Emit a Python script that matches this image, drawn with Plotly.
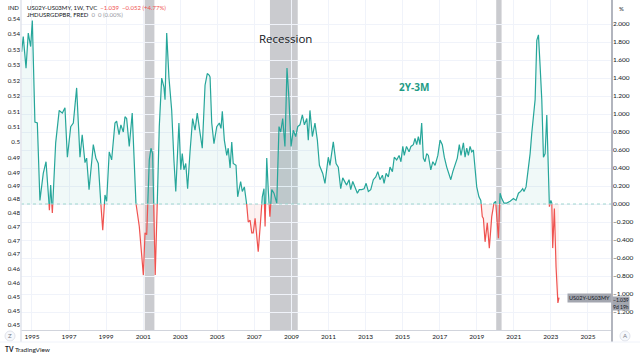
import numpy as np
import pandas as pd
import plotly.graph_objects as go

# ---------------- data ----------------
# weekly US02Y-US03MY spread, dates as decimal years
dates_dec = [
    1994.44, 1994.53, 1994.68, 1994.80, 1994.93, 1995.02, 1995.16, 1995.29, 1995.43, 1995.61,
    1995.76, 1995.92, 1995.94, 1996.01, 1996.10, 1996.28, 1996.47, 1996.64, 1996.78, 1996.91,
    1997.09, 1997.23, 1997.41, 1997.59, 1997.71, 1997.86, 1997.95, 1998.08, 1998.31, 1998.45,
    1998.58, 1998.71, 1998.82, 1998.94, 1999.03, 1999.17, 1999.30, 1999.48, 1999.57, 1999.70,
    1999.80, 1999.93, 2000.02, 2000.11, 2000.25, 2000.41, 2000.61, 2000.79, 2001.01, 2001.10,
    2001.19, 2001.33, 2001.42, 2001.51, 2001.65, 2001.76, 2001.87, 2002.00, 2002.12, 2002.18,
    2002.27, 2002.39, 2002.54, 2002.66, 2002.76, 2002.93, 2003.03, 2003.11, 2003.20, 2003.30,
    2003.40, 2003.53, 2003.67, 2003.80, 2003.92, 2004.07, 2004.19, 2004.34, 2004.46, 2004.57,
    2004.61, 2004.70, 2004.82, 2004.97, 2005.11, 2005.20, 2005.27, 2005.38, 2005.51, 2005.59,
    2005.69, 2005.78, 2005.86, 2006.01, 2006.10, 2006.26, 2006.35, 2006.46, 2006.59, 2006.67,
    2006.77, 2006.86, 2006.94, 2007.04, 2007.13, 2007.21, 2007.34, 2007.43, 2007.52, 2007.58,
    2007.67, 2007.75, 2007.84, 2007.94, 2008.06, 2008.21, 2008.33, 2008.42, 2008.53, 2008.65,
    2008.76, 2008.87, 2008.98, 2009.10, 2009.23, 2009.34, 2009.46, 2009.59, 2009.70, 2009.83,
    2009.91, 2010.00, 2010.13, 2010.27, 2010.40, 2010.51, 2010.69, 2010.81, 2010.99, 2011.08,
    2011.26, 2011.41, 2011.53, 2011.66, 2011.77, 2011.89, 2011.98, 2012.11, 2012.20, 2012.31,
    2012.43, 2012.56, 2012.66, 2012.79, 2012.92, 2013.03, 2013.15, 2013.28, 2013.42, 2013.55,
    2013.66, 2013.78, 2013.91, 2014.00, 2014.11, 2014.23, 2014.32, 2014.45, 2014.55, 2014.68,
    2014.81, 2014.91, 2015.01, 2015.09, 2015.21, 2015.35, 2015.45, 2015.58, 2015.67, 2015.76,
    2015.85, 2015.94, 2016.03, 2016.12, 2016.21, 2016.30, 2016.39, 2016.52, 2016.63, 2016.75,
    2016.90, 2017.02, 2017.14, 2017.25, 2017.38, 2017.51, 2017.60, 2017.71, 2017.83, 2017.95,
    2018.06, 2018.15, 2018.28, 2018.37, 2018.46, 2018.55, 2018.64, 2018.73, 2018.82, 2019.00,
    2019.12, 2019.22, 2019.30, 2019.36, 2019.45, 2019.57, 2019.68, 2019.81, 2019.93, 2020.02,
    2020.17, 2020.26, 2020.35, 2020.47, 2020.62, 2020.80, 2020.98, 2021.12, 2021.25, 2021.37,
    2021.48, 2021.55, 2021.66, 2021.79, 2021.88, 2021.97, 2022.06, 2022.15, 2022.24, 2022.33,
    2022.42, 2022.51, 2022.60, 2022.69, 2022.78, 2022.87, 2022.92, 2023.00, 2023.05, 2023.10,
    2023.19, 2023.28, 2023.38, 2023.44,
]
spread = [
    1.69, 1.86, 1.51, 1.90, 1.75, 2.04, 0.91, 0.90, 0.04, 0.34,
    0.47, 0.01, -0.07, 0.21, -0.10, 0.68, 1.04, 1.01, 1.07, 0.52,
    0.86, 0.90, 1.29, 0.52, 0.77, 0.46, 0.51, 0.16, 0.66, 0.51,
    0.45, 0.02, -0.29, 0.10, 0.03, 0.58, 0.49, 0.90, 0.92, 0.77,
    0.88, 0.80, 0.97, 0.95, 0.64, 1.01, 0.01, -0.25, -0.79, -0.32,
    -0.34, 0.49, 0.62, 0.56, -0.79, 0.01, 0.86, 1.40, 1.30, 1.16,
    1.90, 1.41, 1.04, 0.49, 0.14, 0.90, 0.38, 0.56, 0.38, 0.45,
    0.17, 0.58, 0.95, 0.82, 1.01, 0.79, 0.62, 1.32, 1.45, 1.43,
    1.41, 0.90, 0.67, 0.86, 0.90, 0.84, 1.03, 0.71, 0.54, 0.62,
    0.40, 0.69, 0.45, 0.43, 0.08, 0.25, 0.14, 0.19, -0.01, -0.20,
    -0.18, -0.32, -0.32, -0.16, -0.32, -0.53, -0.18, 0.08, 0.17, -0.25,
    0.51, 0.16, -0.14, 0.16, 0.12, 0.01, 0.86, 0.80, 0.95, 0.64,
    1.51, 1.16, 0.64, 0.82, 0.75, 0.86, 0.88, 0.99, 0.88, 0.95,
    0.71, 1.04, 0.75, 0.90, 0.71, 0.43, 0.34, 0.23, 0.52, 0.43,
    0.69, 0.45, 0.41, 0.17, 0.29, 0.25, 0.21, 0.27, 0.16, 0.25,
    0.19, 0.12, 0.16, 0.16, 0.17, 0.23, 0.14, 0.16, 0.27, 0.30,
    0.36, 0.27, 0.32, 0.23, 0.34, 0.30, 0.41, 0.36, 0.52, 0.49,
    0.54, 0.47, 0.64, 0.54, 0.64, 0.58, 0.64, 0.66, 0.73, 0.66,
    0.75, 0.66, 0.90, 0.51, 0.47, 0.56, 0.54, 0.38, 0.47, 0.43,
    0.54, 0.71, 0.66, 0.52, 0.41, 0.32, 0.27, 0.36, 0.43, 0.51,
    0.66, 0.54, 0.68, 0.52, 0.62, 0.54, 0.64, 0.58, 0.60, 0.19,
    0.08, 0.04, -0.14, -0.16, -0.42, -0.21, -0.49, -0.14, 0.01, 0.03,
    -0.38, 0.12, 0.06, 0.01, 0.01, 0.03, 0.06, 0.04, 0.12, 0.14,
    0.17, 0.14, 0.19, 0.41, 0.56, 0.79, 1.01, 1.16, 1.82, 1.88,
    1.53, 1.16, 0.52, 0.56, 0.99, 0.41, -0.03, 0.04, 0.01, -0.49,
    -0.05, -0.70, -1.10, -1.04,
]
last_value = -1.039

# recession periods (JHDUSRGDPBR = 1)
rec_start = ["2001-02-01", "2007-11-05", "2020-01-20"]
rec_end = ["2001-08-10", "2009-05-05", "2020-05-05"]

x_tick_years = list(range(1995, 2027, 2))
right_ticks = [round(-1.2 + 0.2 * i, 1) for i in range(17)]
left_tick_text = ["0.54", "0.54", "0.53", "0.53", "0.52", "0.52", "0.51", "0.51", "0.5",
                  "0.49", "0.49", "0.49", "0.48", "0.48", "0.47", "0.47", "0.47",
                  "0.46", "0.46", "0.45", "0.45", "0.45"]

# ---------------- helpers ----------------
def dec_to_ts(d):
    y = int(np.floor(d))
    start = pd.Timestamp(year=y, month=1, day=1)
    end = pd.Timestamp(year=y + 1, month=1, day=1)
    return start + (end - start) * (d - y)

t = np.array([dec_to_ts(d).value for d in dates_dec], dtype=float)
v = np.array(spread, dtype=float)

# split into above / below zero with crossing points (for baseline colouring)
xs, ys = [t[0]], [v[0]]
for i in range(1, len(v)):
    a, b = v[i - 1], v[i]
    if (a > 0 and b < 0) or (a < 0 and b > 0):
        tc = t[i - 1] + (t[i] - t[i - 1]) * (a / (a - b))
        xs.append(tc)
        ys.append(0.0)
    xs.append(t[i])
    ys.append(v[i])
xs = np.array(xs)
ys = np.array(ys)
xd = pd.to_datetime(xs.astype("int64"))

up_line = [y if y >= 0 else None for y in ys]
dn_line = [y if y <= 0 else None for y in ys]
up_fill = np.maximum(ys, 0)
dn_fill = np.minimum(ys, 0)

TEAL = "#26a69a"
RED = "#ef5350"
GRID = "#f0f3fa"
TXT = "#131722"

fig = go.Figure()

fig.add_trace(go.Scatter(x=xd, y=up_fill, mode="lines", line=dict(width=0),
                         fill="tozeroy", fillcolor="rgba(38,166,154,0.07)",
                         hoverinfo="skip", showlegend=False))
fig.add_trace(go.Scatter(x=xd, y=dn_fill, mode="lines", line=dict(width=0),
                         fill="tozeroy", fillcolor="rgba(239,83,80,0.08)",
                         hoverinfo="skip", showlegend=False))
fig.add_trace(go.Scatter(x=xd, y=up_line, mode="lines", line=dict(color=TEAL, width=1.2),
                         connectgaps=False, showlegend=False))
fig.add_trace(go.Scatter(x=xd, y=dn_line, mode="lines", line=dict(color=RED, width=1.2),
                         connectgaps=False, showlegend=False))

# dummy trace for left axis
fig.add_trace(go.Scatter(x=[xd[0]], y=[0.5], yaxis="y2", mode="markers",
                         marker=dict(opacity=0), hoverinfo="skip", showlegend=False))

# recession bands
for s, e in zip(rec_start, rec_end):
    fig.add_shape(type="rect", xref="x", yref="paper", x0=s, x1=e, y0=0, y1=1,
                  fillcolor="rgba(150,152,160,0.5)", line=dict(width=0), layer="below")

# zero baseline (dotted)
fig.add_shape(type="line", xref="paper", yref="y", x0=0, x1=1, y0=0, y1=0,
              line=dict(color="#9fd6cf", width=1, dash="dot"))

H = 330.0
left_pos = [19, 34, 50, 65, 81, 96, 112, 127, 142, 158, 173, 186, 199, 213, 227, 241,
            254, 269, 283, 297, 311, 325]
left_vals = [1 - p / H for p in left_pos]

fig.update_layout(
    width=640, height=357,
    margin=dict(l=21, r=28, t=0, b=27),
    paper_bgcolor="white", plot_bgcolor="white",
    font=dict(family="Lato, Open Sans, sans-serif", color=TXT, size=7),
    xaxis=dict(
        type="date",
        range=["1994-05-30", "2026-04-20"],
        tickvals=[f"{yr}-01-01" for yr in x_tick_years],
        ticktext=[str(yr) for yr in x_tick_years],
        showgrid=True, gridcolor=GRID, gridwidth=1,
        zeroline=False, showline=True, linecolor="#d1d4dc", linewidth=1,
        ticks="", tickfont=dict(size=6.5, color="#131722"),
    ),
    yaxis=dict(
        side="right", range=[-1.40, 2.267],
        tickvals=right_ticks, tickformat=".3f",
        showgrid=True, gridcolor=GRID, gridwidth=1,
        zeroline=False, showline=False, ticks="",
        tickfont=dict(size=6.5, color="#131722"),
    ),
    yaxis2=dict(
        overlaying="y", side="left", range=[0, 1],
        tickvals=left_vals, ticktext=left_tick_text,
        showgrid=False, zeroline=False, showline=False, ticks="",
        tickfont=dict(size=6.2, color="#131722"),
    ),
    showlegend=False,
)

PW = 591.0
def px(xp):
    return (xp - 21) / PW
def py(yp):
    return 1 - yp / H

# axis separators
fig.add_shape(type="line", xref="paper", yref="paper", x0=1, x1=1, y0=py(342), y1=1,
              line=dict(color="#b2b5be", width=2))
fig.add_shape(type="line", xref="paper", yref="paper", x0=0, x1=0, y0=py(342), y1=1,
              line=dict(color="#e0e3eb", width=1.5))
fig.add_shape(type="line", xref="paper", yref="paper", x0=px(0), x1=px(640), y0=py(342), y1=py(342),
              line=dict(color="#f0f3fa", width=1))

ann = []
ann.append(dict(xref="paper", yref="paper", x=px(25), y=py(7), xanchor="left", yanchor="middle",
                text="US02Y-US03MY, 1W, TVC&nbsp;&nbsp;<span style='color:#ef5350'>−1.039&nbsp;&nbsp;−0.052 (+4.77%)</span>",
                showarrow=False, font=dict(size=6, color="#131722")))
ann.append(dict(xref="paper", yref="paper", x=px(25), y=py(15), xanchor="left", yanchor="middle",
                text="JHDUSRGDPBR, FRED&nbsp;&nbsp;<span style='color:#9598a1'>0&nbsp;&nbsp;0 (0.00%)</span>",
                showarrow=False, font=dict(size=6, color="#131722")))
ann.append(dict(xref="paper", yref="paper", x=px(285), y=py(39), xanchor="center", yanchor="middle",
                text="Recession", showarrow=False,
                font=dict(size=11.5, color="#131722", family="Open Sans, sans-serif")))
ann.append(dict(xref="paper", yref="paper", x=px(414), y=py(87), xanchor="center", yanchor="middle",
                text="<b>2Y-3M</b>", showarrow=False,
                font=dict(size=10, color="#1e9b85", family="Open Sans, sans-serif")))
ann.append(dict(xref="paper", yref="paper", x=px(13), y=py(7), xanchor="center", yanchor="middle",
                text="IND", showarrow=False, font=dict(size=6, color="#131722")))
ann.append(dict(xref="paper", yref="paper", x=px(617), y=py(8), xanchor="left", yanchor="middle",
                text="%", showarrow=False, font=dict(size=6, color="#131722")))
# price tags
ann.append(dict(xref="paper", yref="y", x=1, y=last_value, xanchor="right", yanchor="middle",
                text="US02Y-US03MY", showarrow=False, bgcolor="#a3a6af",
                font=dict(size=5.5, color="#131722"), borderpad=1))
ann.append(dict(xref="paper", yref="y", x=1, y=last_value, xanchor="left", yanchor="top",
                yshift=1.5, text="−1.039<br>9d 19h", showarrow=False, bgcolor="#a3a6af",
                font=dict(size=5, color="#131722"), borderpad=0, align="left"))
# bottom icons / branding
ann.append(dict(xref="paper", yref="paper", x=px(10), y=py(336), xanchor="center", yanchor="middle",
                text="Z", showarrow=False, font=dict(size=6, color="#787b86")))
ann.append(dict(xref="paper", yref="paper", x=px(625), y=py(336), xanchor="center", yanchor="middle",
                text="A", showarrow=False, font=dict(size=6, color="#787b86")))
ann.append(dict(xref="paper", yref="paper", x=px(3), y=py(349), xanchor="left", yanchor="middle",
                text="<b>TV</b> TradingView", showarrow=False, font=dict(size=6.5, color="#131722")))
fig.update_layout(annotations=ann)

for cx in (10, 625):
    fig.add_shape(type="circle", xref="paper", yref="paper",
                  x0=px(cx - 5), x1=px(cx + 5), y0=py(341), y1=py(331),
                  line=dict(color="#e0e3eb", width=1), fillcolor="rgba(240,243,250,0.6)", layer="below")

fig.write_html("out.html", config={"displayModeBar": False},
               post_script="document.body.style.margin='0';")
